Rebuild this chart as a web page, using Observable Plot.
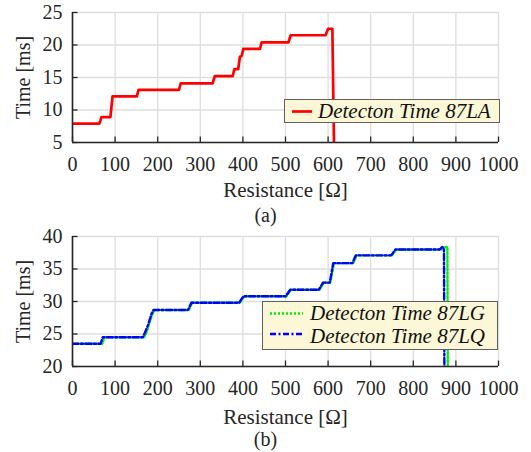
<!DOCTYPE html>
<html>
<head>
<meta charset="utf-8">
<script src="https://cdn.jsdelivr.net/npm/d3@7"></script>
<script src="https://cdn.jsdelivr.net/npm/@observablehq/plot@0.6"></script>
<style>
  body { margin: 0; background: #fff; }
  #wrap { position: relative; width: 531px; height: 452px; font-family: 'Liberation Serif'; color: #262626; }
  .fig { position: absolute; left: 0; }
  .cap { position: absolute; left: 0; width: 531px; text-align: center; font-size: 20px; line-height: 18px; font-family: 'Liberation Serif'; }
  .legend { position: absolute; background: #fcf7d6; border: 1px solid #606060; box-sizing: border-box; }
  .legend svg { position: absolute; left: 0; top: 0; overflow: visible; }
  .legend span { position: absolute; font-family: 'Liberation Serif'; font-style: italic; font-size: 21px; line-height: 22px; white-space: nowrap; color: #111; }
</style>
</head>
<body>
<div id="wrap"></div>
<script>
// ---- data ----
const xTicks = [0, 100, 200, 300, 400, 500, 600, 700, 800, 900, 1000];
const yTicksA = [5, 10, 15, 20, 25];
const yTicksB = [20, 25, 30, 35, 40];

// (a) Detecton Time 87LA
const resistanceLA = [0, 63, 68, 89, 94, 151, 155, 250, 254, 329, 334, 376, 380, 389, 393, 397, 401, 440, 444, 507, 512, 594, 600, 610, 614];
const timeLA       = [7.9, 7.9, 8.9, 8.9, 12.1, 12.1, 13.1, 13.1, 14.1, 14.1, 15.2, 15.2, 16.3, 16.3, 18.2, 18.3, 19.4, 19.4, 20.4, 20.4, 21.5, 21.5, 22.5, 22.5, 4];

// (b) Detecton Time 87LG
const resistanceLG = [0, 70, 75, 168, 174, 180, 187, 193, 273, 281, 393, 403, 502, 513, 580, 590, 605, 614, 659, 667, 750, 760, 866, 876, 880, 881];
const timeLG       = [23.5, 23.5, 24.5, 24.5, 25.3, 26.6, 28, 28.7, 28.7, 29.8, 29.8, 30.8, 30.8, 31.8, 31.8, 32.9, 32.9, 35.9, 35.9, 37.1, 37.1, 38.0, 38.0, 38.4, 38.4, 19];

// (b) Detecton Time 87LQ
const resistanceLQ = [0, 66, 71, 165, 170, 178, 185, 190, 271, 279, 391, 401, 500, 511, 578, 588, 604, 612, 657, 665, 748, 758, 862, 868, 872, 873];
const timeLQ       = [23.5, 23.5, 24.5, 24.5, 25.2, 26.5, 28, 28.7, 28.7, 29.8, 29.8, 30.8, 30.8, 31.8, 31.8, 32.9, 32.9, 35.9, 35.9, 37.1, 37.1, 38.0, 38.0, 38.4, 38.2, 19];

const seriesNames = ["Detecton Time 87LA", "Detecton Time 87LG", "Detecton Time 87LQ"];
const xLabel = "Resistance [Ω]";
const yLabel = "Time [ms]";
const captions = ["(a)", "(b)"];

// ---- styles ----
const FONT = "Liberation Serif";
const ML = 72, MR = 33, H = 200, FH = 130;
const FW = 531 - ML - MR;
const axisColor = "#262626";
const gridColor = "#dedede";
const styleRed = {stroke: "#ff0000", strokeWidth: 2.7};
const styleLG = {stroke: "#00ee00", strokeWidth: 2.4, strokeDasharray: "2,2"};
const styleLQ = {stroke: "#0000ff", strokeWidth: 2.4, strokeDasharray: "6,2.5,2,2.5"};

function panel(yTicks, lines, mt, labelDy) {
  const yDomain = [yTicks[0], yTicks[yTicks.length - 1]];
  return Plot.plot({
    width: 531, height: H,
    marginLeft: ML, marginRight: MR, marginTop: mt, marginBottom: H - mt - FH,
    x: {domain: [0, 1000]},
    y: {domain: yDomain},
    style: {fontFamily: FONT, fontSize: "20px", background: "white", color: axisColor, overflow: "visible"},
    marks: [
      Plot.gridX(xTicks, {stroke: gridColor, strokeOpacity: 1, strokeWidth: 1.3}),
      Plot.gridY(yTicks, {stroke: gridColor, strokeOpacity: 1, strokeWidth: 1.3}),
      ...lines,
      Plot.ruleX([0], {stroke: axisColor, strokeWidth: 1.6}),
      Plot.ruleY([yDomain[0]], {stroke: axisColor, strokeWidth: 1.6}),
      Plot.tickX(xTicks, {insetTop: FH - 5.5, stroke: axisColor, strokeWidth: 1.3}),
      Plot.tickY(yTicks, {insetRight: FW - 5.5, stroke: axisColor, strokeWidth: 1.3}),
      Plot.axisX({ticks: xTicks, tickFormat: d => String(d), tickSize: 0, tickPadding: 14, label: null, fontSize: 20, fontFamily: FONT, fill: axisColor}),
      Plot.axisY({ticks: yTicks, tickFormat: d => String(d), tickSize: 0, tickPadding: 10, label: null, fontSize: 20, fontFamily: FONT, fill: axisColor}),
      Plot.text([xLabel], {frameAnchor: "bottom", dy: labelDy, textAnchor: "middle", lineAnchor: "middle", fontSize: 21, fontFamily: FONT, fill: axisColor}),
      Plot.text([yLabel], {frameAnchor: "left", dx: -49, rotate: -90, textAnchor: "middle", lineAnchor: "middle", fontSize: 20, fontFamily: FONT, fill: axisColor})
    ]
  });
}

const wrap = document.getElementById("wrap");

const figA = panel(yTicksA, [
  Plot.line(timeLA, {x: resistanceLA, y: timeLA, ...styleRed, clip: true})
], 12, 48);
const divA = document.createElement("div");
divA.className = "fig"; divA.style.top = "0px";
divA.appendChild(figA); wrap.appendChild(divA);

const figB = panel(yTicksB, [
  Plot.line(timeLG, {x: resistanceLG, y: timeLG, ...styleLG, clip: true}),
  Plot.line(timeLQ, {x: resistanceLQ, y: timeLQ, ...styleLQ, clip: true})
], 16, 50.5);
const divB = document.createElement("div");
divB.className = "fig"; divB.style.top = "220px";
divB.appendChild(figB); wrap.appendChild(divB);

// captions
[[captions[0], 206], [captions[1], 430]].forEach(([t, top]) => {
  const c = document.createElement("div");
  c.className = "cap"; c.style.top = top + "px"; c.textContent = t;
  wrap.appendChild(c);
});

// legends
function legend(box, rows) {
  const el = document.createElement("div");
  el.className = "legend";
  Object.assign(el.style, {left: box.left + "px", top: box.top + "px", width: box.w + "px", height: box.h + "px"});
  const ns = "http://www.w3.org/2000/svg";
  const svg = document.createElementNS(ns, "svg");
  svg.setAttribute("width", box.w); svg.setAttribute("height", box.h);
  rows.forEach(r => {
    const ln = document.createElementNS(ns, "line");
    ln.setAttribute("x1", r.x1); ln.setAttribute("x2", r.x2);
    ln.setAttribute("y1", r.ly); ln.setAttribute("y2", r.ly);
    ln.setAttribute("stroke", r.style.stroke);
    ln.setAttribute("stroke-width", r.style.strokeWidth);
    if (r.style.strokeDasharray) ln.setAttribute("stroke-dasharray", r.style.strokeDasharray);
    svg.appendChild(ln);
    const s = document.createElement("span");
    s.textContent = r.name;
    s.style.left = r.tx + "px"; s.style.top = (r.ty - 11) + "px";
    el.appendChild(s);
  });
  el.insertBefore(svg, el.firstChild);
  wrap.appendChild(el);
}
legend({left: 284, top: 99, w: 216, h: 24}, [
  {name: seriesNames[0], style: styleRed, x1: 7, x2: 27, ly: 11.5, tx: 33, ty: 11}
]);
legend({left: 262, top: 301, w: 236, h: 49}, [
  {name: seriesNames[1], style: styleLG, x1: 7, x2: 40, ly: 11.5, tx: 47, ty: 11},
  {name: seriesNames[2], style: styleLQ, x1: 7, x2: 40, ly: 32, tx: 47, ty: 34}
]);
</script>
</body>
</html>
